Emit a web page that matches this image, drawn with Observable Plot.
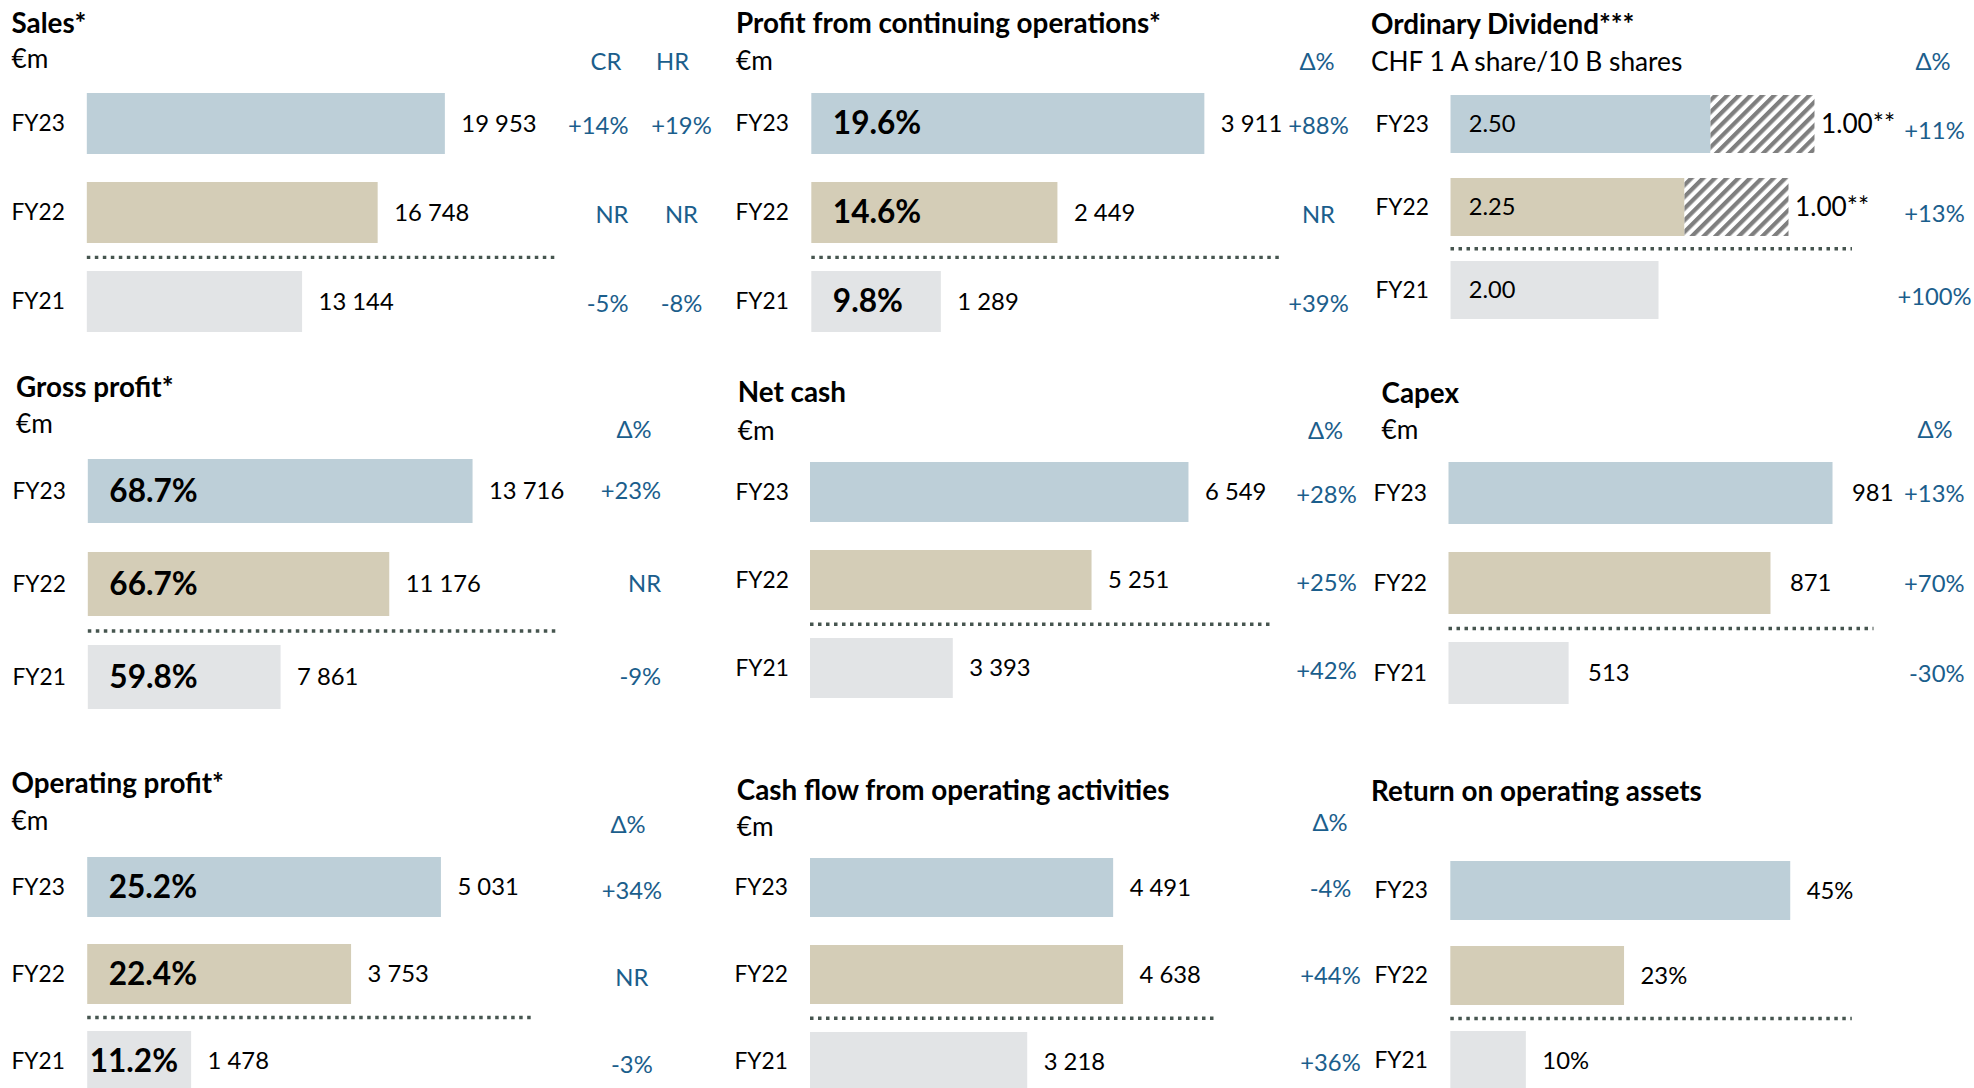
<!DOCTYPE html>
<html><head><meta charset="utf-8">
<script src="https://cdn.jsdelivr.net/npm/d3@7"></script>
<script src="https://cdn.jsdelivr.net/npm/@observablehq/plot@0.6"></script>
<style>
html,body{margin:0;padding:0;width:1974px;height:1088px;overflow:hidden;background:#fff;}
#page{position:relative;width:1974px;height:1088px;font-family:Lato,"Open Sans",sans-serif;color:#000;}
.t{position:absolute;white-space:nowrap;line-height:1;transform:translateY(-50%);}
.panel{position:absolute;}
.panel svg{display:block;overflow:visible;}
</style></head>
<body>
<svg width="0" height="0" style="position:absolute">
  <defs>
    <pattern id="hatch" patternUnits="userSpaceOnUse" width="8.3" height="8.3" patternTransform="rotate(45)">
      <rect width="8.3" height="8.3" fill="#ffffff"></rect>
      <rect width="4.2" height="8.3" fill="#7f7f7f"></rect>
    </pattern>
  </defs>
</svg>
<div id="page"></div>
<script>
// ---------- DATA ----------
const years = ["FY23", "FY22", "FY21"];

const salesValues = [19953, 16748, 13144];
const salesCR = ["+14%", "NR", "-5%"];
const salesHR = ["+19%", "NR", "-8%"];

const profitContValues = [3911, 2449, 1289];
const profitContMargins = [19.6, 14.6, 9.8];
const profitContDeltas = ["+88%", "NR", "+39%"];

const dividendValues = [2.50, 2.25, 2.00];
const specialDividendValues = [1.00, 1.00, null];
const dividendDeltas = ["+11%", "+13%", "+100%"];

const grossProfitValues = [13716, 11176, 7861];
const grossMargins = [68.7, 66.7, 59.8];
const grossDeltas = ["+23%", "NR", "-9%"];

const netCashValues = [6549, 5251, 3393];
const netCashDeltas = ["+28%", "+25%", "+42%"];

const capexValues = [981, 871, 513];
const capexDeltas = ["+13%", "+70%", "-30%"];

const operatingProfitValues = [5031, 3753, 1478];
const operatingMargins = [25.2, 22.4, 11.2];
const operatingDeltas = ["+34%", "NR", "-3%"];

const cashFlowValues = [4491, 4638, 3218];
const cashFlowDeltas = ["-4%", "+44%", "+36%"];

const roaValues = [45, 23, 10];

const titles = ["Sales*", "Profit from continuing operations*", "Ordinary Dividend***",
  "Gross profit*", "Net cash", "Capex",
  "Operating profit*", "Cash flow from operating activities", "Return on operating assets"];
const subtitles = ["€m", "€m", "CHF 1 A share/10 B shares", "€m", "€m", "€m", "€m", "€m", null];

// ---------- STYLE ----------
const barColors = ["#bdcfd8", "#d4cdb7", "#e2e4e6"];
const deltaColor = "#1b5e8c";
const sepColor = "#46554f";

const ctx = document.createElement("canvas").getContext("2d");
function inkWidth(text, weight, size) {
  ctx.font = `${weight} ${size}px Lato`;
  const m = ctx.measureText(text);
  const ink = (m.actualBoundingBoxLeft || 0) + (m.actualBoundingBoxRight || 0);
  return ink > 0 ? ink : m.width;
}
function fit(text, weight, target) {
  return 100 * target / inkWidth(text, weight, 100);
}
const titleSize = fit("Profit from continuing operations*", 700, 421.7);
const subSize = fit("CHF 1 A share/10 B shares", 400, 312);
const labelSize = fit("FY23", 400, 50.2);
const valueSize = fit("19 953", 400, 72.1);
const deltaSize = fit("+14%", 400, 58.3);
const innerSize = fit("68.7%", 700, 86.2);
const divSize = fit("2.50", 400, 45);
const specSize = fit("1.00**", 400, 70.6);

const fmtInt = d3.formatLocale({decimal: ".", thousands: " ", grouping: [3], currency: ["", ""]}).format(",d");

// ---------- PANELS (data refs + layout) ----------
const panels = [
  {values: salesValues, fmt: fmtInt, cols: [salesCR, salesHR], heads: ["CR", "HR"],
   lay: {x0: 11, xb: 86.8, y1: 92.3, h: 61.5, s: 89.3, ppu: 0.020972, base: 2879, sepEnd: 558, right: 720,
         tx: 11.5, ty: 22.9, sy: 58.4, hx: [[606, "middle"], [672.5, "middle"]], hy: 61.7,
         cx: [[628, "end"], [681, "middle"]], ddy: 2, vdx: 16}},
  {values: profitContValues, margins: profitContMargins, fmt: fmtInt, cols: [profitContDeltas], heads: ["Δ%"],
   lay: {x0: 734.7, xb: 811, y1: 92.3, h: 61.5, s: 89.3, ppu: 0.1005, base: 0, sepEnd: 1282, right: 1368,
         tx: 736, ty: 23.3, sy: 60, hx: [[1317, "middle"]], hy: 61.7, cx: [[1317.7, "middle"]], ddy: 2, vdx: 16}},
  {values: dividendValues, special: specialDividendValues, dividend: true, cols: [dividendDeltas], heads: ["Δ%"],
   lay: {x0: 1374.5, xb: 1450, y1: 94.3, h: 58.2, s: 83.35, ppu: 104, base: 0, sepEnd: 1851.5, right: 1974,
         tx: 1371, ty: 24, sy: 60.9, hx: [[1933, "middle"]], hy: 61.7, cx: [[1933.5, "middle"]], ddy: 7, vdx: 6}},
  {values: grossProfitValues, margins: grossMargins, fmt: fmtInt, cols: [grossDeltas], heads: ["Δ%"],
   lay: {x0: 12.4, xb: 88.2, y1: 459, h: 63.6, s: 93, ppu: 0.03279, base: 1982, sepEnd: 558, right: 720,
         tx: 16, ty: 387, sy: 423.4, hx: [[634, "middle"]], hy: 430, cx: [[661, "end"]], ddy: 0, vdx: 16}},
  {values: netCashValues, fmt: fmtInt, cols: [netCashDeltas], heads: ["Δ%"],
   lay: {x0: 735, xb: 810, y1: 461, h: 60.6, s: 88.5, ppu: 0.07468, base: 1481, sepEnd: 1273.5, right: 1368,
         tx: 737.7, ty: 392.4, sy: 429.5, hx: [[1325.6, "middle"]], hy: 430.7, cx: [[1326, "middle"]], ddy: 3, vdx: 16}},
  {values: capexValues, fmt: fmtInt, cols: [capexDeltas], heads: ["Δ%"],
   lay: {x0: 1372.5, xb: 1448, y1: 462.3, h: 62, s: 90, ppu: 0.5639, base: 300, sepEnd: 1873, right: 1974,
         tx: 1381.5, ty: 393.4, sy: 428.7, hx: [[1935, "middle"]], hy: 430, cx: [[1963.5, "end"]], ddy: 1, vdx: 19}},
  {values: operatingProfitValues, margins: operatingMargins, fmt: fmtInt, cols: [operatingDeltas], heads: ["Δ%"],
   lay: {x0: 10.6, xb: 86.8, y1: 855.3, h: 60.4, s: 87.85, ppu: 0.07031, base: 0, sepEnd: 531.7, right: 720,
         tx: 11.5, ty: 782.9, sy: 820, hx: [[628, "middle"]], hy: 825, cx: [[631, "middle"]], ddy: 4, vdx: 16}},
  {values: cashFlowValues, fmt: fmtInt, cols: [cashFlowDeltas], heads: ["Δ%"],
   lay: {x0: 734, xb: 810, y1: 857.3, h: 59.7, s: 87.35, ppu: 0.0675, base: 0, sepEnd: 1215, right: 1368,
         tx: 736.8, ty: 790.4, sy: 826, hx: [[1330, "middle"]], hy: 823, cx: [[1330, "middle"]], ddy: 1, vdx: 16}},
  {values: roaValues, fmt: v => v + "%", cols: [], heads: [],
   lay: {x0: 1373.7, xb: 1450, y1: 861, h: 59, s: 85, ppu: 7.554, base: 0, sepEnd: 1851.5, right: 1974,
         tx: 1371, ty: 790.9, sy: 0, hx: [], hy: 0, cx: [], ddy: 0, vdx: 16}}
];

const page = document.getElementById("page");
function addText(str, x, y, size, weight, color, anchor) {
  const d = document.createElement("div");
  d.className = "t";
  d.textContent = str;
  d.style.fontSize = size + "px";
  d.style.fontWeight = weight;
  d.style.color = color;
  d.style.top = y + "px";
  d.style.left = x + "px";
  if (anchor === "middle") d.style.transform = "translate(-50%,-50%)";
  else if (anchor === "end") d.style.transform = "translate(-100%,-50%)";
  page.appendChild(d);
}

panels.forEach((P, pi) => {
  const L = P.lay;
  addText(titles[pi], L.tx, L.ty, titleSize, 700, "#000");
  if (subtitles[pi]) addText(subtitles[pi], L.tx, L.sy, subSize, 400, "#000");
  P.heads.forEach((h, k) => addText(h, L.hx[k][0], L.hy, deltaSize, 400, deltaColor, L.hx[k][1]));

  const rows = years.map((year, i) => ({
    year, value: P.values[i],
    margin: P.margins ? P.margins[i] : null,
    special: P.special ? P.special[i] : null,
    deltas: P.cols.map(c => c[i])
  }));
  const ml = L.xb - L.x0;
  const pad = 1 - L.h / L.s;
  const height = L.s * (3 + pad);
  const top = L.y1 - L.s * pad;
  const width = L.right - L.x0;
  const vmax = d3.max(rows, d => d.value + (d.special || 0));
  const base = L.base;

  const marks = [
    Plot.barX(rows, {x1: () => base, x2: "value", y: "year", fill: "year"}),
    Plot.ruleY(["FY21"], {y: d => d, dy: -L.s / 2, stroke: sepColor, strokeWidth: 3.4, strokeDasharray: "3.5,4.5"}),
    Plot.text(rows, {y: "year", text: "year", frameAnchor: "left", textAnchor: "start", dx: -ml, fontSize: labelSize, fill: "#000"})
  ];
  if (P.dividend) {
    const sp = rows.filter(d => d.special != null);
    marks.push(
      Plot.barX(sp, {x1: "value", x2: d => d.value + d.special, y: "year", fill: "url(#hatch)"}),
      Plot.text(rows, {x: () => base, y: "year", text: d => d.value.toFixed(2), textAnchor: "start", dx: 17.7, fontSize: divSize, fill: "#000"}),
      Plot.text(sp, {x: d => d.value + d.special, y: "year", text: d => d.special.toFixed(2) + "**", textAnchor: "start", dx: L.vdx, fontSize: specSize, fill: "#000"})
    );
  } else {
    marks.push(Plot.text(rows, {x: "value", y: "year", text: d => P.fmt(d.value), textAnchor: "start", dx: L.vdx, fontSize: valueSize, fill: "#000"}));
  }
  if (P.margins) {
    const lab = d => d.margin.toFixed(1) + "%";
    const roomy = d => (d.value - base) * L.ppu >= inkWidth(lab(d), 700, innerSize) + 44;
    marks.push(
      Plot.text(rows.filter(roomy), {x: () => base, y: "year", text: lab, textAnchor: "start", dx: 21, fontSize: innerSize, fontWeight: "bold", fill: "#000"}),
      Plot.text(rows.filter(d => !roomy(d)), {x: () => base, y: "year", text: lab, textAnchor: "start", dx: 2, fontSize: innerSize, fontWeight: "bold", fill: "#000"})
    );
  }
  P.cols.forEach((c, k) => {
    const [cx, anchor] = L.cx[k];
    marks.push(Plot.text(rows, {y: "year", text: d => d.deltas[k], frameAnchor: "left", textAnchor: anchor, dx: cx - L.xb, dy: L.ddy, fontSize: deltaSize, fill: deltaColor}));
  });

  const svg = Plot.plot({
    width, height,
    marginLeft: ml, marginRight: width - (L.sepEnd - L.x0), marginTop: 0, marginBottom: 0,
    x: {domain: [base, vmax], range: [ml, ml + (vmax - base) * L.ppu], axis: null},
    y: {domain: years, range: [0, height], padding: pad, axis: null},
    color: {domain: years, range: barColors},
    style: {fontFamily: "Lato, 'Open Sans', sans-serif", overflow: "visible", background: "transparent"},
    marks
  });
  const wrap = document.createElement("div");
  wrap.className = "panel";
  wrap.style.left = L.x0 + "px";
  wrap.style.top = top + "px";
  wrap.appendChild(svg);
  page.appendChild(wrap);
});
</script>
</body></html>
